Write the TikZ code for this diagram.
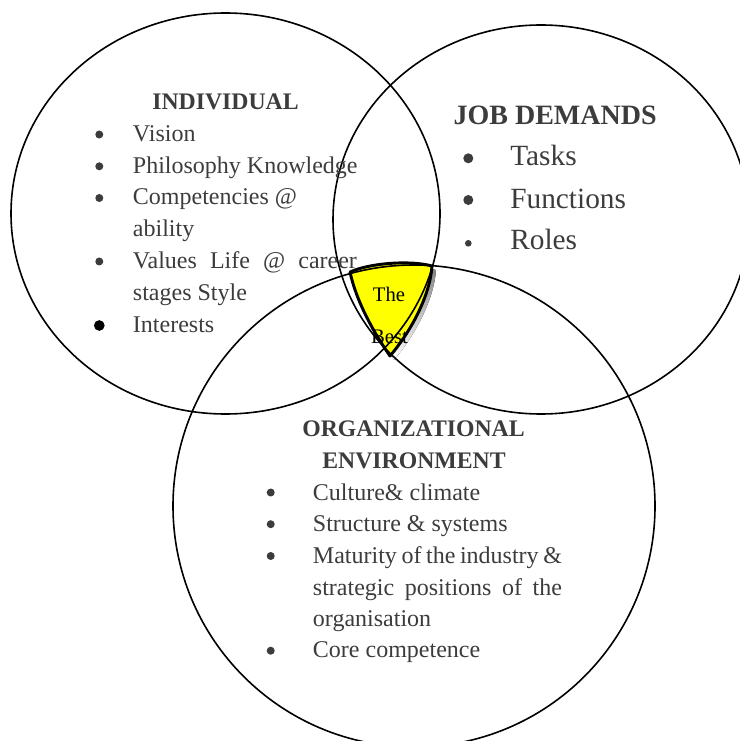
\documentclass[tikz,border=0pt]{standalone}
\usepackage{fontspec}
\setmainfont{Liberation Serif}
\definecolor{ink}{HTML}{3C3C3C}
\definecolor{shade}{HTML}{9EA488}
\definecolor{best}{HTML}{FFFF00}

\begin{document}
\begin{tikzpicture}[x=0.75pt,y=-0.75pt,
    ring/.style={line width=1.2pt},
    bestzone/.style={insert path={(350,272) .. controls (370,263) and (410,260) .. (432,266)
        .. controls (430,295) and (412,330) .. (390,356)
        .. controls (372,330) and (356,300) .. (350,272) -- cycle}},
    item/.style={anchor=base west,inner sep=0pt,text=ink,font=\fontsize{18}{21}\selectfont},
    bigitem/.style={item,font=\fontsize{22}{26}\selectfont},
    head/.style={anchor=base,inner sep=0pt,text=ink,font=\fontsize{17.8}{21}\selectfont\bfseries},
    bul/.style={circle,fill=ink,inner sep=0pt,minimum size=6pt}]
  \useasboundingbox (0,0) rectangle (739,741);

  % the best fit
  \fill[shade,shift={(4,4)},bestzone];
  \filldraw[fill=best,line width=2.2pt,line join=round,bestzone];

  % the three circles
  \draw[ring] (225.5,213.5) ellipse [x radius=214.5, y radius=200.5];
  \draw[ring] (541,219.5) ellipse [x radius=208, y radius=194.5];
  \draw[ring] (414,506) ellipse [x radius=241, y radius=241];

  \node[anchor=base,inner sep=0pt,font=\fontsize{15.5}{18}\selectfont] (the) at (389,301.5) {The};
  \node[anchor=base,inner sep=0pt,font=\fontsize{15.5}{18}\selectfont] (bestword) at (389.5,343) {Best};

  % individual
  \node[head] (indhead) at (225.5,109.3) {INDIVIDUAL};
  \node[bul] (indb1) at (99.3,134.5) {};
  \node[bul] (indb2) at (99.3,166.3) {};
  \node[bul] (indb3) at (99.3,198) {};
  \node[bul] (indb4) at (99.3,261.5) {};
  \node[bul,fill=black,minimum size=8pt] (indb5) at (99.3,325.5) {};
  \node[item] (ind1) at (132.7,141.5) {Vision};
  \node[item] (ind2) at (132.7,173.3) {Philosophy Knowledge};
  \node[item] (ind3) at (132.7,205) {Competencies @};
  \node[item] (ind3b) at (132.7,237) {ability};
  \node[item] (ind4) at (132.7,268.5) {\makebox[168pt][s]{Values Life @ career}};
  \node[item] (ind4b) at (132.7,300.5) {stages Style};
  \node[item] (ind5) at (132.7,332.5) {Interests};

  % job demands
  \node[head,anchor=base west,font=\fontsize{21}{25}\selectfont\bfseries] (jobhead) at (453.3,125) {JOB DEMANDS};
  \node[bul,minimum size=7.5pt] (jobb1) at (468.3,158.3) {};
  \node[bul,minimum size=7.5pt] (jobb2) at (468.3,200) {};
  \node[bul,minimum size=5pt] (jobb3) at (468.3,243.3) {};
  \node[bigitem] (job1) at (510,166) {Tasks};
  \node[bigitem] (job2) at (510,208.3) {Functions};
  \node[bigitem] (job3) at (510,249.3) {Roles};

  % organizational environment
  \node[head] (orghead) at (413.5,436.7) {ORGANIZATIONAL};
  \node[head] (orghead2) at (414,468.3) {ENVIRONMENT};
  \node[bul] (orgb1) at (270.7,492.5) {};
  \node[bul] (orgb2) at (270.7,524.2) {};
  \node[bul] (orgb3) at (270.7,556) {};
  \node[bul] (orgb4) at (270.7,650.7) {};
  \node[item] (org1) at (312.7,500) {Culture\& climate};
  \node[item] (org2) at (312.7,531.7) {Structure \& systems};
  \node[item] (org3) at (312.7,563) {\makebox[186.75pt][s]{Maturity of the industry \&}};
  \node[item] (org3b) at (312.7,595) {\makebox[186.75pt][s]{strategic positions of the}};
  \node[item] (org3c) at (312.7,626.7) {organisation};
  \node[item] (org4) at (312.7,657.7) {Core competence};
\end{tikzpicture}
\end{document}
